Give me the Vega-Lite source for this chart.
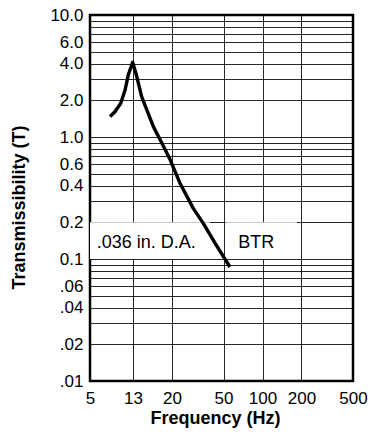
{
  "$schema": "https://vega.github.io/schema/vega-lite/v6.json",
  "width": 263,
  "height": 366,
  "autosize": "none",
  "padding": {"left": 90, "top": 15, "right": 17, "bottom": 53},
  "background": "white",
  "config": {
    "font": "Liberation Sans",
    "view": {"stroke": "black", "strokeWidth": 2.5},
    "axis": {
      "labelColor": "black",
      "titleColor": "black",
      "labelFont": "Liberation Sans",
      "titleFont": "Liberation Sans",
      "labelFontSize": 17,
      "titleFontSize": 18,
      "titleFontWeight": "bold",
      "ticks": false,
      "domain": false,
      "grid": true,
      "gridColor": "black",
      "gridWidth": 1,
      "gridOpacity": 0.85,
      "labelOverlap": false
    }
  },
  "datasets": {
    "curve": [
      {"freq": 7.8, "t": 1.47},
      {"freq": 8.7, "t": 1.61},
      {"freq": 9.9, "t": 1.89},
      {"freq": 10.9, "t": 2.43},
      {"freq": 11.7, "t": 3.22},
      {"freq": 12.9, "t": 4.1},
      {"freq": 13.5, "t": 3.22},
      {"freq": 14.3, "t": 2.14},
      {"freq": 16.3, "t": 1.21},
      {"freq": 17.9, "t": 0.89},
      {"freq": 19.6, "t": 0.65},
      {"freq": 23.0, "t": 0.42},
      {"freq": 29.2, "t": 0.26},
      {"freq": 34.9, "t": 0.196},
      {"freq": 43.0, "t": 0.135},
      {"freq": 56.0, "t": 0.086}
    ],
    "boxes": [
      {"f1": 5, "f2": 39, "t1": 0.1, "t2": 0.2},
      {"f1": 52, "f2": 185, "t1": 0.1, "t2": 0.2}
    ],
    "labels": [
      {"freq": 5.8, "t": 0.134, "text": ".036 in. D.A."},
      {"freq": 65, "t": 0.134, "text": "BTR"}
    ]
  },
  "layer": [
    {
      "data": {"name": "boxes"},
      "mark": {"type": "rect", "fill": "white", "stroke": null},
      "encoding": {
        "x": {
          "field": "f1", "type": "quantitative",
          "scale": {"type": "log", "domain": [5, 13, 20, 500], "range": [0, 43, 82, 263], "nice": false},
          "axis": {
            "values": [5, 13, 20, 50, 100, 200, 500],
            "format": "d",
            "labelFlush": false,
            "labelPadding": 9,
            "title": "Frequency (Hz)",
            "titlePadding": 3,
            "titleX": 125
          }
        },
        "x2": {"field": "f2"},
        "y": {
          "field": "t1", "type": "quantitative",
          "scale": {"type": "log", "domain": [0.01, 10], "nice": false},
          "axis": {
            "values": [0.01, 0.02, 0.03, 0.04, 0.05, 0.06, 0.07, 0.08, 0.09, 0.1, 0.2, 0.3, 0.4, 0.5, 0.6, 0.7, 0.8, 0.9, 1, 2, 3, 4, 5, 6, 7, 8, 9, 10],
            "labelExpr": "datum.value==10?'10.0':datum.value==6?'6.0':datum.value==4?'4.0':datum.value==2?'2.0':datum.value==1?'1.0':datum.value==0.6?'0.6':datum.value==0.4?'0.4':datum.value==0.2?'0.2':datum.value==0.1?'0.1':datum.value==0.06?'.06':datum.value==0.04?'.04':datum.value==0.02?'.02':datum.value==0.01?'.01':''",
            "labelPadding": 7,
            "title": "Transmissibility (T)",
            "titlePadding": 21,
            "titleY": 192
          }
        },
        "y2": {"field": "t2"}
      }
    },
    {
      "data": {"name": "curve"},
      "mark": {"type": "line", "color": "black", "strokeWidth": 3.4, "strokeJoin": "round", "strokeCap": "butt"},
      "encoding": {
        "x": {"field": "freq", "type": "quantitative"},
        "y": {"field": "t", "type": "quantitative"}
      }
    },
    {
      "data": {"name": "labels"},
      "mark": {"type": "text", "fontSize": 18, "color": "black", "baseline": "middle", "align": "left"},
      "encoding": {
        "x": {"field": "freq", "type": "quantitative"},
        "y": {"field": "t", "type": "quantitative"},
        "text": {"field": "text"}
      }
    }
  ]
}
